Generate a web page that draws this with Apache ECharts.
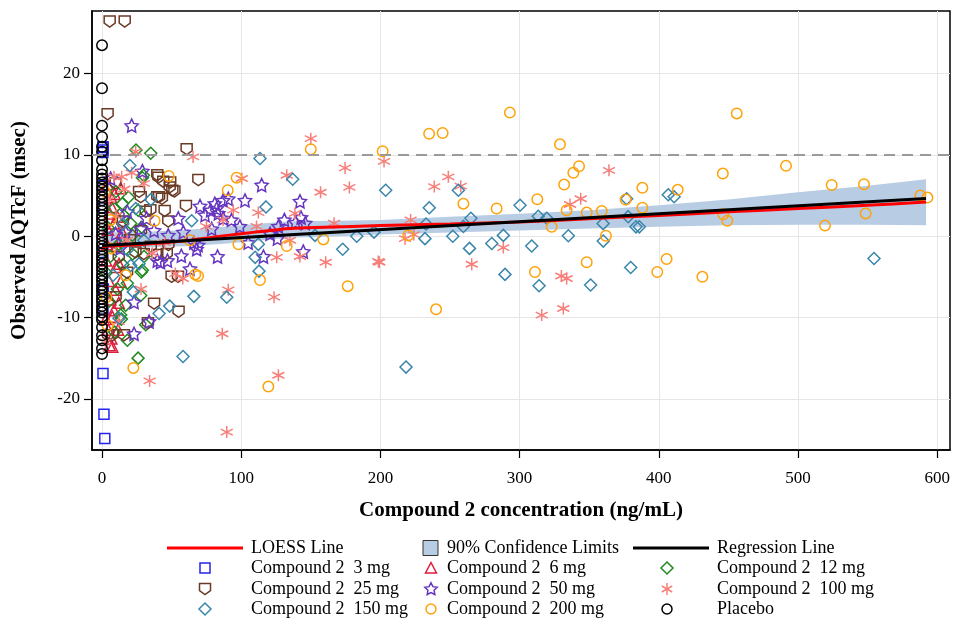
<!DOCTYPE html>
<html>
<head>
<meta charset="utf-8">
<script src="https://cdn.jsdelivr.net/npm/echarts@6/dist/echarts.min.js"></script>
<style>
  html, body { margin: 0; padding: 0; background: #fff; }
  #chart { width: 954px; height: 622px; }
</style>
</head>
<body>
<div id="chart"></div>
<script>
// ---- Axis ticks ----
const xTicks = [0, 100, 200, 300, 400, 500, 600];
const yTicks = [-20, -10, 0, 10, 20];

// ---- Observed dQTcF (msec) vs. concentration (ng/mL), by dose group ----
const dose3mg = [[0.7,11.0],[0.9,10.6],[0.6,10.3],[0.8,10.9],[0.5,6.2],[0.8,3.5],[0.6,-2.0],[0.9,-6.5],
  [0.7,-9.0],[0.7,-16.9],[1.4,-21.9],[2.0,-24.9]];

const dose6mg = [[5.5,-13.4],[6.7,-12.6],[7.4,-13.6],[4.5,-11.5],[8.6,-9.1],[7.4,-9.9],[9.8,-6.6],[13.4,-5.6],
  [9.8,-3.8],[12.2,-3.4],[8.6,1.55],[11,2.4],[13.4,5.9],[6.5,4.8],[4,6.4],[3.5,-1],[5,-5.5],[10.5,-1.2],
  [7,3.6],[4.2,0.8],[6,-7.8],[12,-8.2],[3,-3],[5.5,2.8],[9,5.2],[14.5,0.5],[2.8,-10.2],[11.5,-11.5]];

const dose12mg = [[24.4,10.6],[35,10.2],[29.7,7.5],[29,7.2],[14.6,4.0],[8.6,3.4],[20.6,1.55],[21.8,0.1],
  [30.2,-2.5],[29,-4.2],[18.2,-5.8],[27.8,-7.3],[17,-8.5],[13.4,-9.7],[13.9,-10.2],[31.4,-10.9],[18.2,-12.8],
  [25.9,-15.0],[28.2,-4.4],[10,5.5],[16,2.5],[6,-2.5],[12,-1.0],[22,-2.2],[5,-8],[9,-11.8],[19,4.8],
  [4.5,1.0],[26,3.2],[15,-3.5],[11,-6.5],[3,-4.5],[28.5,1.1]];

const dose25mg = [[5.5,26.4],[16.3,26.4],[4.0,15.0],[60.8,10.7],[40.5,7.2],[39.7,7.5],[69.2,6.9],[48.6,6.0],
  [50.5,5.6],[49,6.6],[52,5.5],[26.6,5.45],[27.8,4.8],[41,4.8],[39.7,4.8],[43,4.6],[60.3,3.7],[31.4,3.0],
  [45,3.1],[34.7,3.2],[9.8,6.5],[47.6,1.8],[35,-1.3],[39.7,-2.3],[46.5,-2.2],[24,-2.0],[30,-2.2],[50,-5.0],
  [54.6,-5.0],[37.4,-8.3],[55,-9.3],[9.8,-7.5],[33,-10.7],[15.8,-12.2],[7.4,-12.2],[4.3,-12.2],[15,1.8],
  [20,-0.5],[12,-2.6],[28,0.6],[18,-4.5],[44,6.7],[47.7,-1.1]];

const dose50mg = [[21.3,13.6],[29,8.0],[6.2,7.1],[18.2,3.0],[9.8,0.3],[17,0.5],[27.8,0.9],[37.4,0.7],
  [39.7,-3.0],[23,-8.1],[33.8,-10.5],[23,-12.0],[54.8,2.2],[70.4,3.7],[81,4.0],[82.4,3.4],[87,4.4],
  [90.7,4.6],[83.6,2.8],[87,2.2],[78,3.2],[74,2.6],[102.7,4.4],[114.7,6.3],[142.2,4.3],[139,1.7],[146,1.6],
  [143,2.3],[126.7,1.2],[120.7,0.3],[105,-0.8],[78.8,0.9],[58.4,0.5],[47.6,0.1],[69,-1.1],[68,-1.6],
  [144.6,-1.9],[116,-2.5],[63.2,-4.0],[42,-3.2],[47,-3.0],[57,-2.4],[66,-0.8],[83,-2.5],[93,2.0],[99,1.2],
  [126,-0.3],[131,2.0],[13,-1.5],[32,2.2]];

const dose100mg = [[24.2,10.4],[65.4,9.75],[14.1,7.3],[21.3,7.8],[8.6,7.3],[100.4,7.1],[132.7,7.5],[94.3,3.2],
  [112.3,2.9],[111,1.2],[87,2.0],[36.1,-2.1],[58,-5.2],[52.7,-4.6],[90.7,-6.6],[123.6,-7.5],[86.4,-12.0],
  [126.7,-17.1],[34.2,-17.8],[89.6,-24.1],[150,12.0],[174.6,8.4],[177.7,6.0],[157,5.4],[138.6,2.8],
  [166.7,1.6],[135,-0.5],[125.5,-2.6],[142.2,-2.5],[160.7,-3.2],[198.5,-3.1],[202.6,9.2],[248.8,7.3],
  [238.7,6.1],[257.7,6.15],[221.7,2.0],[217.7,-0.3],[224,0.2],[288.3,-1.4],[265.6,-3.45],[199.2,-3.2],
  [330,-4.9],[333.8,-5.2],[315.9,-9.7],[331.4,-8.9],[364.2,8.1],[343.9,4.6],[336.2,3.9],[18,-0.5],[10,2.5],
  [45,-0.8],[75,1.2],[28,-6.5],[5,4.5],[12,-10.5],[2.5,-13.0],[30,6.5],[16,5.8]];

const dose150mg = [[20,8.7],[113.5,9.55],[24.2,3.4],[18.2,-1.7],[26.6,-3.4],[20.6,-3.6],[22.5,-6.85],
  [12.2,-10.1],[41,-9.5],[48.6,-8.6],[66,-7.4],[89.6,-7.5],[58.2,-14.8],[64.4,1.9],[117.8,3.6],[137,7.0],
  [112.3,-1.0],[110,-2.6],[112.8,-4.3],[153,0.1],[172.9,-1.6],[183,0.0],[195.4,0.5],[203.8,5.65],[256,5.65],
  [235.1,3.5],[300.3,3.8],[313.4,2.45],[319.5,2.2],[232.8,1.5],[265,2.2],[259.6,1.2],[232,-0.3],[252,0.0],
  [264,-1.5],[280,-0.9],[288.3,0.1],[308.7,-1.2],[335,0.05],[289.5,-4.7],[314,-6.1],[218.4,-16.1],
  [376.9,4.6],[406.8,5.1],[411,4.85],[378,2.4],[360,1.55],[383.6,1.15],[386,1.15],[360.1,-0.6],
  [379.8,-3.85],[351,-6.0],[554.6,-2.75],[35,4.5],[30,-0.5],[8,-4.8],[15,1.5]];

const dose200mg = [[47.9,7.4],[96.7,7.2],[90.3,5.65],[37.8,1.9],[6.2,2.0],[6.2,-1.5],[63.2,-0.5],[98,-1.0],
  [132.7,-1.2],[67,-4.7],[69,-4.9],[17,-4.8],[113.5,-5.4],[176.5,-6.15],[22.5,-16.2],[119.5,-18.5],
  [150,10.7],[159,-0.4],[201.6,10.45],[235,12.6],[244.7,12.7],[293,15.2],[329,11.3],[259.6,4.0],
  [283.5,3.4],[312.7,4.55],[332,6.35],[333.8,3.2],[323,1.15],[220,0.1],[311,-4.4],[240,-9.0],[456,15.1],
  [446,7.7],[342.7,8.6],[338.6,7.8],[348.2,2.9],[359,3.1],[388.2,5.95],[376.2,4.5],[413.6,5.7],[388.2,3.5],
  [446.3,2.7],[449.2,1.9],[362,0.05],[348.2,-3.2],[405.6,-2.8],[398.9,-4.4],[431.3,-5.0],[491.4,8.65],
  [524.2,6.3],[547.4,6.4],[588,5.0],[593,4.75],[519.4,1.3],[548.6,2.8],[3,-7.5],[4,-11.0],[2,5.5]];

// Placebo subjects have zero concentration
const placeboY = [23.5, 18.2, 13.6, 12.2, 11.0, 10.4, 9.35, 8.2, 7.6, 7.1, 6.6, 6.1, 5.7, 5.2, 4.8, 4.4,
  3.9, 3.5, 3.1, 2.6, 2.2, 1.8, 1.3, 0.9, 0.5, 0.1, -0.3, -0.8, -1.2, -1.6, -2.1, -2.5, -2.9, -3.4, -3.8,
  -4.2, -4.7, -5.1, -5.5, -6.0, -6.4, -6.8, -7.3, -7.7, -8.1, -8.6, -9.0, -9.4, -9.9, -10.3, -11.2,
  -12.2, -12.8, -13.8, -14.5];

// ---- Fitted curves ----
const regX = [0, 592];
const regY = [-1.16, 4.63];
const loessX = [0, 30, 60, 90, 110, 135, 160, 200, 250, 300, 350, 400, 450, 500, 550, 592];
const loessY = [-1.25, -1.0, -0.55, 0.1, 0.5, 0.95, 1.1, 1.3, 1.5, 1.75, 2.15, 2.55, 3.0, 3.4, 3.8, 4.2];
const ciX  = [0, 25, 60, 90, 110, 135, 170, 200, 250, 300, 350, 400, 450, 500, 550, 592];
const ciLo = [-1.5, -1.35, -1.25, -0.9, -0.6, -0.2, 0.0, 0.2, 0.45, 0.7, 0.95, 1.15, 1.35, 1.4, 1.4, 1.35];
const ciHi = [0.5, 0.5, 0.75, 1.2, 1.5, 1.85, 1.9, 2.0, 2.4, 2.75, 3.2, 3.8, 4.5, 5.4, 6.2, 7.0];

const refLineY = 10;

// ---- Marker shapes ----
const SHIELD = 'path://M0,0 L10,0 L10,6.5 L5,10 L0,6.5 Z';
const STAR = 'path://M50,0 L64.7,29.8 L97.6,34.5 L73.8,57.7 L79.4,90.5 L50,75 L20.6,90.5 L26.2,57.7 L2.4,34.5 L35.3,29.8 Z';
const ASTER = 'path://M5,0 L5,10 M0.67,2.5 L9.33,7.5 M0.67,7.5 L9.33,2.5';

const FONT = '"Liberation Serif", "Times New Roman", serif';

function scatter(name, data, symbol, size, color, lw) {
  return {
    type: 'scatter', name, data, symbol, symbolSize: size,
    itemStyle: { color: 'rgba(0,0,0,0)', borderColor: color, borderWidth: lw || 1.5, opacity: 1 },
    emphasis: { disabled: true }, z: 3
  };
}

const zip = (xs, ys) => xs.map((x, i) => [x, ys[i]]);

// ---- Legend built from graphic primitives ----
function legendMarker(kind, cx, cy, color) {
  const st = { fill: 'none', stroke: color, lineWidth: 1.5 };
  switch (kind) {
    case 'rect': return [{ type: 'rect', shape: { x: cx - 5, y: cy - 5, width: 10, height: 10 }, style: st }];
    case 'triangle': return [{ type: 'polygon', shape: { points: [[cx, cy - 5.5], [cx + 5.5, cy + 5], [cx - 5.5, cy + 5]] }, style: st }];
    case 'diamond': return [{ type: 'polygon', shape: { points: [[cx, cy - 6], [cx + 6, cy], [cx, cy + 6], [cx - 6, cy]] }, style: st }];
    case 'shield': return [{ type: 'polygon', shape: { points: [[cx - 5.5, cy - 5.5], [cx + 5.5, cy - 5.5], [cx + 5.5, cy + 1.5], [cx, cy + 5.5], [cx - 5.5, cy + 1.5]] }, style: st }];
    case 'circle': return [{ type: 'circle', shape: { cx, cy, r: 5 }, style: st }];
    case 'star': {
      const p = [[50,0],[64.7,29.8],[97.6,34.5],[73.8,57.7],[79.4,90.5],[50,75],[20.6,90.5],[26.2,57.7],[2.4,34.5],[35.3,29.8]]
        .map(q => [cx + (q[0] - 50) * 0.13, cy + (q[1] - 48) * 0.13]);
      return [{ type: 'polygon', shape: { points: p }, style: st }];
    }
    case 'asterisk': {
      const r = 6, a = r * 0.866, b = r * 0.5;
      return [
        { type: 'line', shape: { x1: cx, y1: cy - r, x2: cx, y2: cy + r }, style: { stroke: color, lineWidth: 1.5 } },
        { type: 'line', shape: { x1: cx - a, y1: cy - b, x2: cx + a, y2: cy + b }, style: { stroke: color, lineWidth: 1.5 } },
        { type: 'line', shape: { x1: cx - a, y1: cy + b, x2: cx + a, y2: cy - b }, style: { stroke: color, lineWidth: 1.5 } }
      ];
    }
  }
  return [];
}
function legendText(text, x, y) {
  return { type: 'text', style: { text, x, y, font: '18px ' + FONT, fill: '#000', verticalAlign: 'middle', textAlign: 'left' } };
}

const C = {
  d3: '#2424f0', d6: '#dc1e3c', d12: '#1f8a1f', d25: '#6b3a26', d50: '#6535c0',
  d100: '#f77f7a', d150: '#3a86ab', d200: '#ffa20a', pbo: '#000000'
};

const rows = [548, 568, 589, 609];
const col = [{ m: 205, t: 251 }, { m: 431, t: 447 }, { m: 667, t: 717 }];
const legendItems = [
  [0, 1, 'rect', C.d3, 'Compound 2  3 mg'], [1, 1, 'triangle', C.d6, 'Compound 2  6 mg'], [2, 1, 'diamond', C.d12, 'Compound 2  12 mg'],
  [0, 2, 'shield', C.d25, 'Compound 2  25 mg'], [1, 2, 'star', C.d50, 'Compound 2  50 mg'], [2, 2, 'asterisk', C.d100, 'Compound 2  100 mg'],
  [0, 3, 'diamond', C.d150, 'Compound 2  150 mg'], [1, 3, 'circle', C.d200, 'Compound 2  200 mg'], [2, 3, 'circle', C.pbo, 'Placebo']
];
let graphics = [
  { type: 'line', shape: { x1: 167, y1: rows[0], x2: 243, y2: rows[0] }, style: { stroke: '#ff0000', lineWidth: 3 } },
  legendText('LOESS Line', 251, rows[0]),
  { type: 'rect', shape: { x: 423, y: rows[0] - 7.5, width: 15, height: 15 }, style: { fill: '#b8cce4', stroke: '#333', lineWidth: 1 } },
  legendText('90% Confidence Limits', 447, rows[0]),
  { type: 'line', shape: { x1: 633, y1: rows[0], x2: 709, y2: rows[0] }, style: { stroke: '#000', lineWidth: 3 } },
  legendText('Regression Line', 717, rows[0])
];
legendItems.forEach(([c, r, kind, color, label]) => {
  graphics = graphics.concat(legendMarker(kind, col[c].m, rows[r], color));
  graphics.push(legendText(label, col[c].t, rows[r]));
});

const chart = echarts.init(document.getElementById('chart'));
chart.setOption({
  animation: false,
  backgroundColor: '#fff',
  grid: { left: 92, right: 4, top: 11, bottom: 172, show: true, borderColor: '#000', borderWidth: 1.5, backgroundColor: '#fff' },
  xAxis: {
    type: 'value', min: -7.2, max: 609.2,
    name: 'Compound 2 concentration (ng/mL)', nameLocation: 'middle', nameGap: 50,
    nameTextStyle: { fontFamily: FONT, fontSize: 21, fontWeight: 'bold', color: '#000' },
    axisLine: { show: true, onZero: false, lineStyle: { color: '#000', width: 1.5 } },
    axisTick: { show: true, length: 8, customValues: xTicks, lineStyle: { color: '#000', width: 1.2 } },
    axisLabel: { customValues: xTicks, margin: 20, fontFamily: FONT, fontSize: 17, color: '#000' },
    splitLine: { show: true, lineStyle: { color: '#e6e6e6', width: 1 } }
  },
  yAxis: {
    type: 'value', min: -26.3, max: 27.7,
    name: 'Observed \u0394QTcF (msec)', nameLocation: 'middle', nameGap: 62, nameRotate: 90,
    nameTextStyle: { fontFamily: FONT, fontSize: 21, fontWeight: 'bold', color: '#000' },
    axisLine: { show: true, onZero: false, lineStyle: { color: '#000', width: 1.5 } },
    axisTick: { show: true, length: 8, customValues: yTicks, lineStyle: { color: '#000', width: 1.2 } },
    axisLabel: { customValues: yTicks, margin: 12, fontFamily: FONT, fontSize: 17, color: '#000' },
    splitLine: { show: true, lineStyle: { color: '#e6e6e6', width: 1 } }
  },
  graphic: graphics,
  series: [
    {
      type: 'custom', name: '90% Confidence Limits', data: [0], z: 1, silent: true,
      renderItem: function (params, api) {
        const upper = ciX.map((x, i) => api.coord([x, ciHi[i]]));
        const lower = ciX.map((x, i) => api.coord([x, ciLo[i]])).reverse();
        return { type: 'polygon', shape: { points: upper.concat(lower) }, style: { fill: '#b8cce4', opacity: 1 } };
      }
    },
    scatter('Compound 2  3 mg', dose3mg, 'rect', 10, C.d3),
    scatter('Compound 2  6 mg', dose6mg, 'triangle', 11, C.d6),
    scatter('Compound 2  12 mg', dose12mg, 'diamond', 12, C.d12),
    scatter('Compound 2  25 mg', dose25mg, SHIELD, [11, 11], C.d25),
    scatter('Compound 2  50 mg', dose50mg, STAR, 13, C.d50),
    scatter('Compound 2  100 mg', dose100mg, ASTER, 12, C.d100),
    scatter('Compound 2  150 mg', dose150mg, 'diamond', 12, C.d150),
    scatter('Compound 2  200 mg', dose200mg, 'circle', 10.5, C.d200),
    scatter('Placebo', placeboY.map(y => [0, y]), 'circle', 10.5, C.pbo),
    {
      type: 'line', name: 'LOESS Line', data: zip(loessX, loessY), smooth: 0.3, showSymbol: false, z: 4,
      lineStyle: { color: '#ff0000', width: 3 }, emphasis: { disabled: true }
    },
    {
      type: 'line', name: 'Regression Line', data: zip(regX, regY), showSymbol: false, z: 5,
      lineStyle: { color: '#000', width: 3 }, emphasis: { disabled: true },
      markLine: {
        silent: true, symbol: 'none', label: { show: false },
        lineStyle: { color: '#9a9a9a', type: [11, 7], width: 2 },
        data: [{ yAxis: refLineY }]
      }
    }
  ]
});
</script>
</body>
</html>
